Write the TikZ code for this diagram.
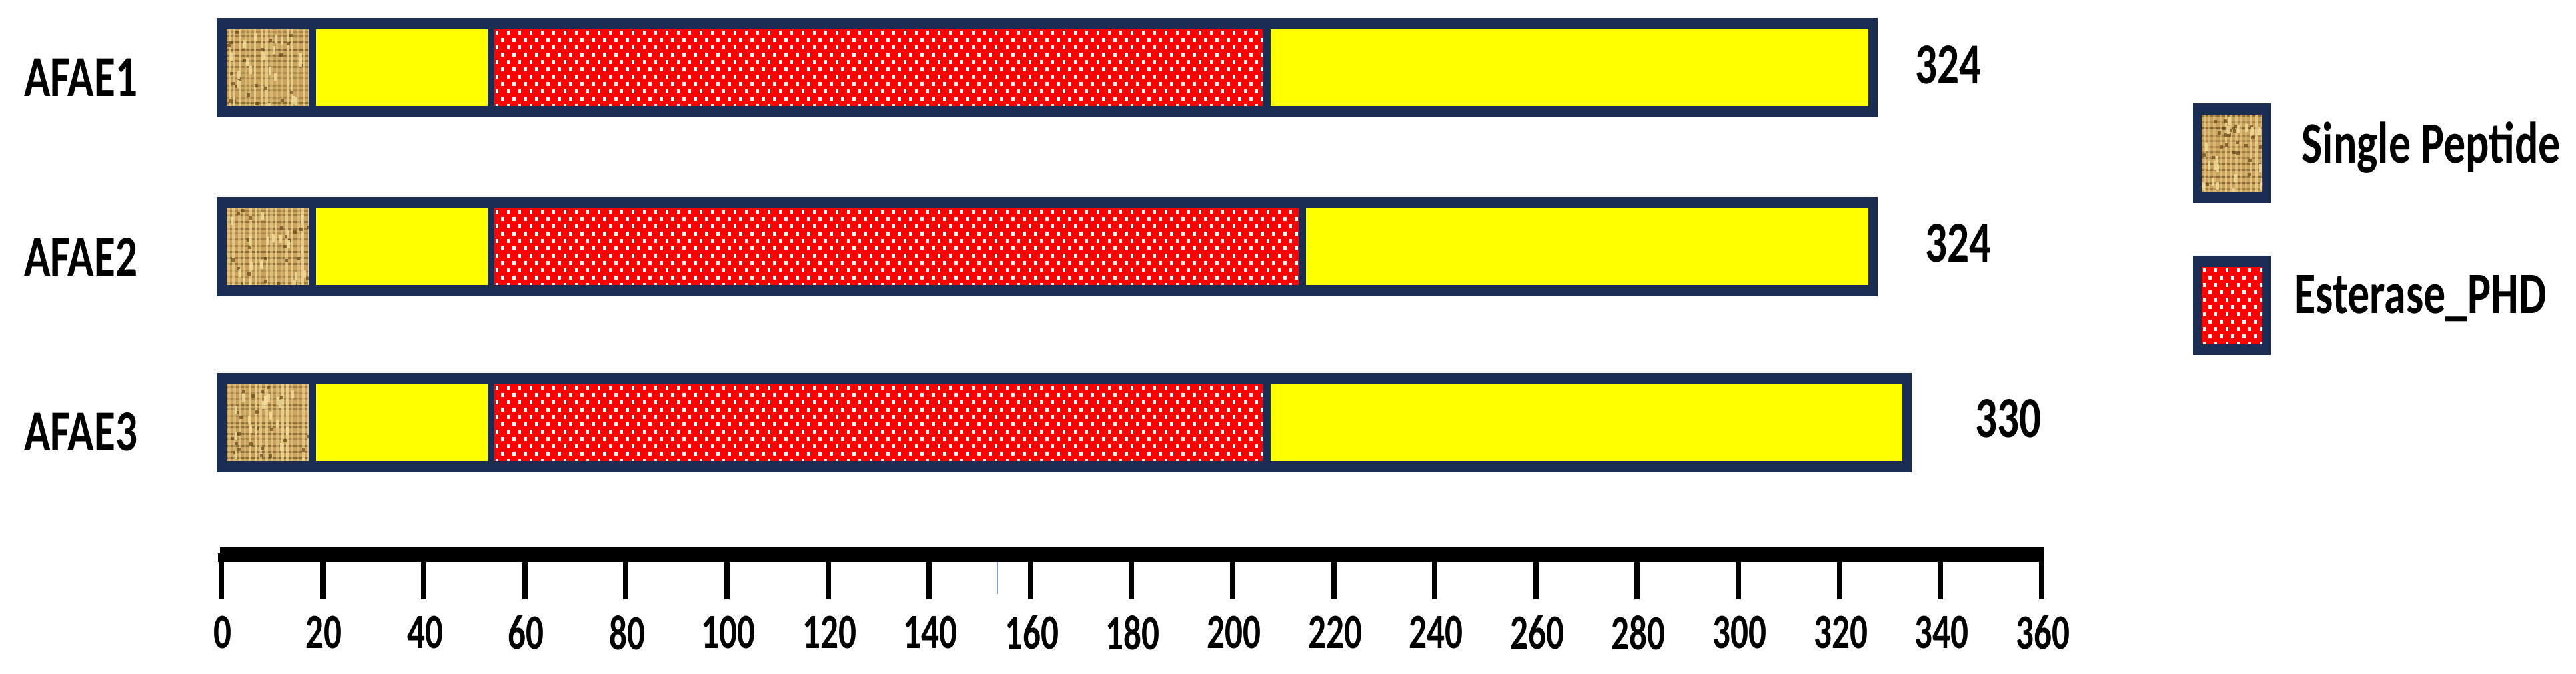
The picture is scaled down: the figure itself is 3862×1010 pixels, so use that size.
\documentclass[tikz,border=0pt]{standalone}
\usepackage{fontspec}
\setmainfont{Carlito}
\definecolor{navy}{HTML}{1B2D52}
\definecolor{domyellow}{HTML}{FFFF00}
\definecolor{domred}{HTML}{FF0000}
\definecolor{burlapbase}{HTML}{C9A35E}
\definecolor{burlapdark}{HTML}{5E3E12}
\definecolor{burlaplight}{HTML}{F2DC9C}
\definecolor{strayblue}{HTML}{7F9FD8}
\newcommand{\drawburlap}[4]{%
  \begin{scope}
    \clip (#1,#2) rectangle (#3,#4);
    \fill[burlapbase] (#1,#2) rectangle (#3,#4);
    \foreach \k in {0,...,14}{%
      \pgfmathsetmacro{\yy}{#2+\k*9+rnd*3}
      \pgfmathsetmacro{\op}{0.2+rnd*0.4}
      \fill[burlapdark, opacity=\op] (#1,\yy) rectangle (#3,\yy+3);
    }
    \foreach \k in {0,...,16}{%
      \pgfmathsetmacro{\xx}{#1+\k*8+rnd*3}
      \pgfmathsetmacro{\op}{0.3+rnd*0.5}
      \fill[burlaplight, opacity=\op] (\xx,#2) rectangle (\xx+3.5,#4);
    }
    \foreach \k in {0,...,22}{%
      \pgfmathsetmacro{\xx}{#1+rnd*(#3-#1)}
      \pgfmathsetmacro{\yy}{#2+rnd*(#4-#2)}
      \fill[burlapdark, opacity=0.65] (\xx,\yy) rectangle (\xx+5,\yy+5);
    }
    \foreach \k in {0,...,18}{%
      \pgfmathsetmacro{\xx}{#1+rnd*(#3-#1)}
      \pgfmathsetmacro{\yy}{#2+rnd*(#4-#2)}
      \fill[burlaplight, opacity=0.85] (\xx,\yy) rectangle (\xx+4,\yy+12);
    }
  \end{scope}}
\newcommand{\drawdots}[4]{%
  \fill[domred] (#1,#2) rectangle (#3,#4);
  \begin{scope}
    \clip (#1,#2) rectangle (#3,#4);
    \pgfmathtruncatemacro{\nx}{(#3-#1)/17+1}
    \pgfmathtruncatemacro{\ny}{(#4-#2)/11+1}
    \foreach \j in {0,...,\ny}{%
      \foreach \i in {0,...,\nx}{%
        \pgfmathsetmacro{\xx}{#1+4+\i*17+mod(\j,2)*8.5}
        \pgfmathsetmacro{\yy}{#2+5+\j*11}
        \fill[white] (\xx-2.3,\yy-3) rectangle (\xx+2.3,\yy+3);
      }
    }
  \end{scope}}
\begin{document}
\begin{tikzpicture}[x=0.01cm, y={(0cm,-0.01cm)},
  namelbl/.style={font=\fontsize{24.7}{28}\selectfont\bfseries, inner sep=0pt},
  lenlbl/.style={font=\fontsize{24.7}{28}\selectfont\bfseries, inner sep=0pt},
  leglbl/.style={font=\fontsize{25}{28}\selectfont\bfseries, inner sep=0pt, anchor=base west},
  ticklbl/.style={font=\fontsize{21}{24}\selectfont\bfseries, inner sep=0pt},
]
\pgfmathsetseed{7}
\useasboundingbox (0,0) rectangle (3862,1010);
\fill[white] (0,0) rectangle (3862,1010);

% ---- bar 1
\fill[navy] (325,27) rectangle (2815,176);
\drawburlap{340}{44}{463}{159}
\fill[domyellow] (474,44) rectangle (731,159);
\drawdots{741}{44}{1893}{159}
\fill[domyellow] (1905,44) rectangle (2801,159);

% ---- bar 2
\fill[navy] (325,295) rectangle (2815,444);
\drawburlap{340}{312}{463}{427}
\fill[domyellow] (474,312) rectangle (731,427);
\drawdots{741}{312}{1947}{427}
\fill[domyellow] (1958,312) rectangle (2801,427);

% ---- bar 3
\fill[navy] (325,559) rectangle (2866,708);
\drawburlap{340}{576}{463}{691}
\fill[domyellow] (474,576) rectangle (731,691);
\drawdots{741}{576}{1893}{691}
\fill[domyellow] (1905,576) rectangle (2852,691);

% ---- names and lengths
\node[namelbl] (afae1) at (121,116) {\scalebox{0.75}[1]{AFAE1}};
\node[namelbl] (afae2) at (121,385) {\scalebox{0.75}[1]{AFAE2}};
\node[namelbl] (afae3) at (121,647) {\scalebox{0.75}[1]{AFAE3}};
\node[lenlbl] (len1) at (2921,97) {\scalebox{0.75}[1]{324}};
\node[lenlbl] (len2) at (2936,364) {\scalebox{0.75}[1]{324}};
\node[lenlbl] (len3) at (3011,627) {\scalebox{0.75}[1]{330}};

% ---- legend
\fill[navy] (3288,155) rectangle (3404,304);
\drawburlap{3301}{172}{3391}{288}
\fill[navy] (3288,383) rectangle (3404,532);
\drawdots{3301}{400}{3391}{516}
\node[leglbl] (leg1) at (3450,245) {\scalebox{0.75}[1]{Single Peptide}};
\node[leglbl] (leg2) at (3439,470) {\scalebox{0.75}[1]{Esterase\_PHD}};

% ---- axis
\fill[black] (330,820) rectangle (3064,842);
\fill[black] (327,829) rectangle (337,842);
\foreach \v [count=\k from 0] in {0,20,...,360}{%
  \fill[black] ({332+\k*151.6-4},840) rectangle ({332+\k*151.6+4},898);
  \node[ticklbl] (tick\v) at ({332+\k*151.6+2},948) {\scalebox{0.72}[1]{\v}};
}
\draw[strayblue, line width=0.6pt] (1495,842) -- (1495,890);
\end{tikzpicture}
\end{document}
